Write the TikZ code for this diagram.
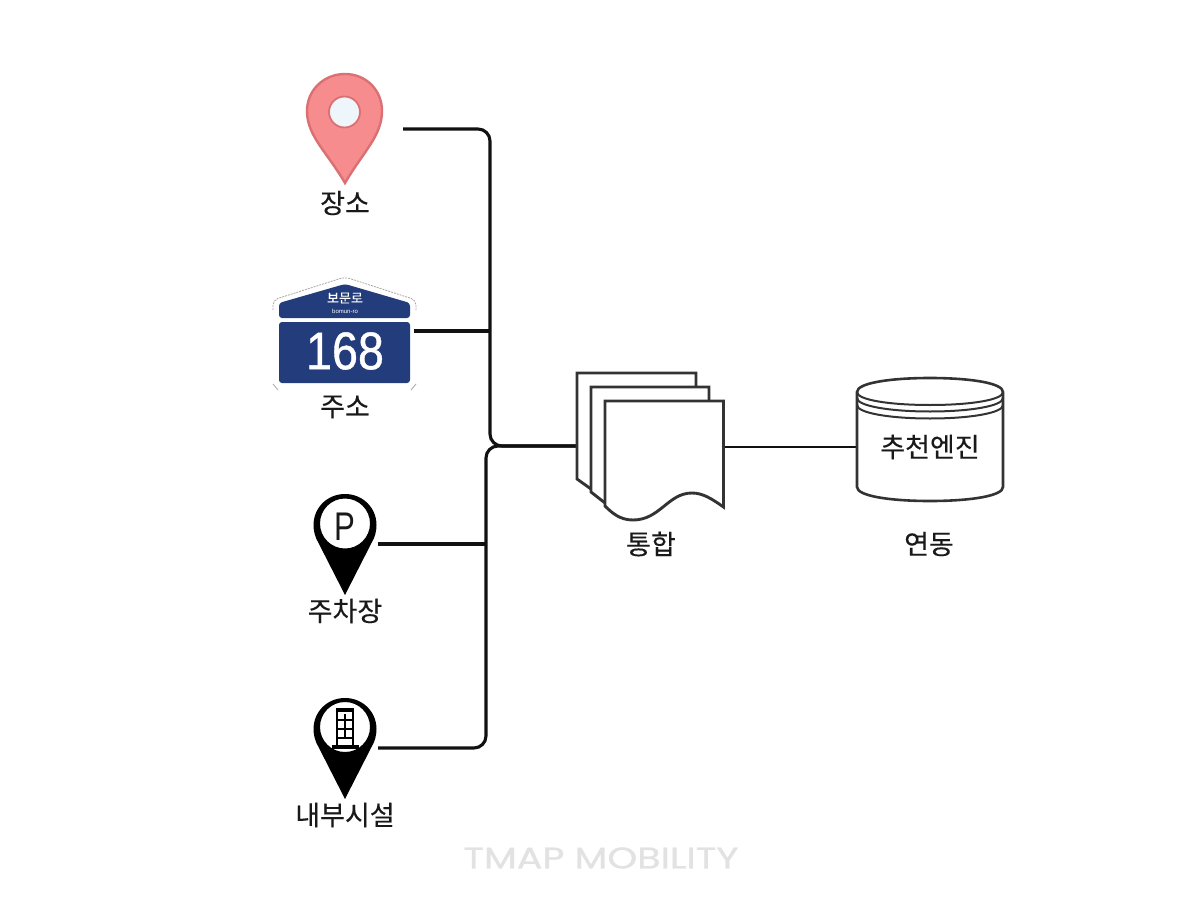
\documentclass[tikz,border=0pt]{standalone}
\usepackage{fontspec}
\setmainfont{Noto Sans CJK KR}
\newfontfamily\labelfont{Noto Sans CJK KR}[FakeBold=0.3]
\newfontfamily\latinfont{Liberation Sans}
\newfontfamily\numfont{Liberation Sans}[FakeBold=0.9]
\newfontfamily\logofont{Poppins}[FakeBold=0.9]
\definecolor{lineblack}{HTML}{111111}
\definecolor{shapegray}{HTML}{333333}
\definecolor{pinred}{HTML}{F78C8E}
\definecolor{pinedge}{HTML}{DB7073}
\definecolor{pinhole}{HTML}{EEF6FB}
\definecolor{signblue}{HTML}{233C7B}
\definecolor{logogray}{HTML}{E2E2E2}
\tikzset{
  conn/.style={draw=lineblack,line width=3.1pt},
  thinconn/.style={draw=lineblack,line width=2.6pt},
  bendconn/.style={conn,rounded corners=12pt},
  shapeline/.style={draw=shapegray,line width=2.9pt,fill=white,line join=miter},
  cylline/.style={draw=shapegray,line width=2.6pt},
  label/.style={inner sep=0pt,text=black!90,font=\labelfont\fontsize{27}{30}\selectfont},
  pinpath/.style={fill=black},
}
\begin{document}
\begin{tikzpicture}[x=1pt,y=-1pt]
\useasboundingbox (0,0) rectangle (1201,901);
% anchors
\coordinate (placeEnd) at (403,129);
\coordinate (addrEnd) at (414,331);
\coordinate (parkEnd) at (378,544);
\coordinate (inEnd) at (378,748);
\coordinate (busA) at (490,331);
\coordinate (busB) at (486,544);
\coordinate (joinTop) at (490,446);
\coordinate (joinLow) at (486,446);
\coordinate (docIn) at (590,446);
\coordinate (docOut) at (715,447);
\coordinate (dbIn) at (865,447);
% connectors
\draw[bendconn] (placeEnd) -- (placeEnd -| joinTop) -- (joinTop) -- (docIn);
\draw[bendconn] (inEnd) -- (inEnd -| joinLow) -- (joinLow) -- (docIn);
\draw[conn] (addrEnd) -- (busA);
\draw[conn] (parkEnd) -- (busB);
\draw[thinconn] (docOut) -- (dbIn);
% red pin
\draw[fill=pinred,draw=pinedge,line width=2.4pt] (345,183)
  .. controls (327,152) and (307,136) .. (307,111)
  .. controls (307,90) and (324,74) .. (345,74)
  .. controls (366,74) and (382,90) .. (382,111)
  .. controls (382,136) and (363,152) .. (345,183) -- cycle;
\draw[fill=pinhole,draw=pinedge,line width=1.8pt] (344.5,112) circle (15.5);
\node[label] (place) at (345,203) {장소};
% road sign
\draw[gray!70,line width=.8pt,dash pattern=on 2pt off 1pt,rounded corners=5pt]
  (273,310) -- (273,300) -- (345,277) -- (416,300) -- (416,310);
\draw[gray!70,line width=.8pt] (273,384) -- (278,390);
\draw[gray!70,line width=.8pt] (416,384) -- (411,390);
\fill[signblue,rounded corners=3pt] (279,318) -- (279,303) -- (345,284) -- (410,303) -- (410,318) -- cycle;
\fill[signblue,rounded corners=3pt] (279,322) rectangle (410,383);
\node[inner sep=0pt,text=white,font=\labelfont\fontsize{13}{14}\selectfont] (signname) at (345,298) {보문로};
\node[inner sep=0pt,text=white,font=\latinfont\fontsize{6}{7}\selectfont] (signroman) at (345,311) {bomun-ro};
\node[inner sep=0pt,text=white,font=\numfont\fontsize{53}{56}\selectfont] (signnum) at (345,351) {\scalebox{0.88}[1]{168}};
\node[label] (addr) at (345,407) {주소};
% parking pin
\fill[pinpath,even odd rule] (345,595) -- (318,542)
  .. controls (315,537) and (313.5,531) .. (313.5,525)
  .. controls (313.5,508) and (327,494) .. (345,494)
  .. controls (363,494) and (376.5,508) .. (376.5,525)
  .. controls (376.5,531) and (375,537) .. (372,542) -- cycle
  (345,523.5) circle (25);
\node[inner sep=0pt,font=\latinfont\fontsize{40}{42}\selectfont,text=black!90] (ptext) at (345,527) {\scalebox{0.78}[1]{P}};
\node[label] (park) at (345,611) {주차장};
% building pin
\fill[pinpath,even odd rule] (345,799) -- (318,746)
  .. controls (315,741) and (313.5,735) .. (313.5,729)
  .. controls (313.5,712) and (327,698) .. (345,698)
  .. controls (363,698) and (376.5,712) .. (376.5,729)
  .. controls (376.5,735) and (375,741) .. (372,746) -- cycle
  (345,727) circle (25);
\fill[black] (331.5,745) rectangle (358.5,748.5);
\draw[black,line width=2.4pt] (337,746) -- (337,711) -- (353,711) -- (353,746);
\draw[black,line width=3.5pt] (336,710) -- (354,710);
\draw[black,line width=2.2pt] (345,714) -- (345,737) (337,720) -- (353,720) (337,729) -- (353,729) (337,738) -- (353,738);
\node[label] (indoor) at (345,815) {내부시설};
% stacked documents
\draw[shapeline] (577,373) -- (696,373) -- (696,480) -- (591,489) -- (577,479) -- cycle;
\draw[shapeline] (591,387) -- (709,387) -- (709,490) -- (605,503) -- (591,492) -- cycle;
\draw[shapeline] (605,401) -- (723.5,401) -- (723.5,507)
  .. controls (712,499) and (703,493) .. (692,493)
  .. controls (668,493) and (660,520) .. (633,520)
  .. controls (620,520) and (612,513) .. (605,506) -- cycle;
\node[label] (merge) at (651,544) {통합};
% database
\draw[cylline,fill=white] (857,392) .. controls (857,383) and (890,378) .. (930,378)
  .. controls (970,378) and (1003,383) .. (1003,392)
  -- (1003,487) .. controls (1003,496) and (970,501) .. (930,501)
  .. controls (890,501) and (857,496) .. (857,487) -- cycle;
\draw[cylline,line width=2pt] (857,392) .. controls (857,400) and (890,405) .. (930,405) .. controls (970,405) and (1003,400) .. (1003,392);
\draw[cylline,line width=2pt] (857,398) .. controls (857,406) and (890,411.5) .. (930,411.5) .. controls (970,411.5) and (1003,406) .. (1003,398);
\draw[cylline,line width=2pt] (857,405) .. controls (857,413) and (890,418.5) .. (930,418.5) .. controls (970,418.5) and (1003,413) .. (1003,405);
\node[label] (engine) at (930,447) {추천엔진};
\node[label] (link) at (929,544) {연동};
% logo
\node[inner sep=0pt,text=logogray] (logo) at (601,858) {\resizebox{275pt}{21pt}{\logofont TMAP MOBILITY}};
\end{tikzpicture}
\end{document}
